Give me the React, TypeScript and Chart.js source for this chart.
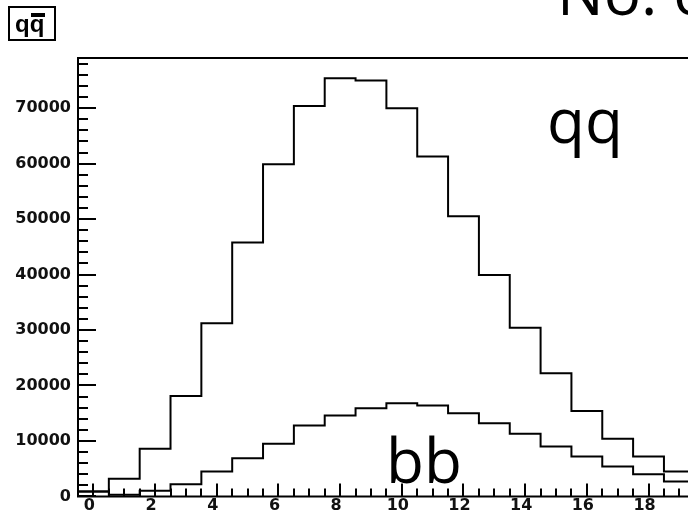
import React, { useEffect, useRef } from 'react';
import { Chart, registerables } from 'chart.js';

Chart.register(...registerables);

// ---- data ----
const binCenters = [0, 1, 2, 3, 4, 5, 6, 7, 8, 9, 10, 11, 12, 13, 14, 15, 16, 17, 18, 19];
const qqCounts = [900, 3200, 8600, 18100, 31200, 45800, 59900, 70400, 75400, 75000, 70000, 61300, 50500, 39900, 30400, 22200, 15400, 10400, 7200, 4500];
const bbCounts = [900, 300, 1000, 2200, 4500, 6900, 9500, 12800, 14600, 15900, 16800, 16400, 15000, 13200, 11300, 9000, 7200, 5400, 4000, 2700];
const xTickValues = [0, 2, 4, 6, 8, 10, 12, 14, 16, 18];
const yTickValues = [0, 10000, 20000, 30000, 40000, 50000, 60000, 70000];
const binWidth = 1;
const xMin = -0.5;
const xMax = 19.28;
const yMax = 79050;

function toSteps(counts: number[]) {
  const pts = counts.map((c, i) => ({ x: binCenters[i] - binWidth / 2, y: c }));
  const last = binCenters.length - 1;
  pts.push({ x: binCenters[last] + binWidth / 2, y: counts[last] });
  return pts;
}

const framePlugin = {
  id: 'rootFrame',
  afterDatasetsDraw(chart: any) {
    const { ctx, chartArea, scales } = chart;
    const { left, right, top, bottom } = chartArea;
    const x = scales.x;
    const y = scales.y;
    ctx.save();
    ctx.strokeStyle = '#000';
    ctx.lineWidth = 2;
    ctx.lineCap = 'butt';
    ctx.beginPath();
    ctx.moveTo(left, top);
    ctx.lineTo(right + 5, top);
    ctx.moveTo(left, top - 1);
    ctx.lineTo(left, bottom);
    ctx.lineTo(right + 5, bottom);
    ctx.stroke();
    // y ticks (inward)
    ctx.beginPath();
    for (let v = 0; v <= yMax; v += 2000) {
      const py = Math.round(y.getPixelForValue(v));
      const len = v % 10000 === 0 ? 18 : 10;
      ctx.moveTo(left, py);
      ctx.lineTo(left + len, py);
    }
    // x ticks (inward)
    for (let v = 0; v <= xMax; v += 0.5) {
      const px = Math.round(x.getPixelForValue(v));
      const len = v % 2 === 0 ? 13 : 8;
      ctx.moveTo(px, bottom);
      ctx.lineTo(px, bottom - len);
    }
    ctx.stroke();
    ctx.restore();
  },
  afterDraw(chart: any) {
    const { ctx } = chart;
    ctx.save();
    // title box
    ctx.fillStyle = '#fff';
    ctx.fillRect(9, 7, 46, 33);
    ctx.strokeStyle = '#000';
    ctx.lineWidth = 2;
    ctx.strokeRect(9, 7, 46, 33);
    ctx.fillStyle = '#000';
    ctx.font = 'bold 24px "Liberation Sans", Arial, sans-serif';
    ctx.textBaseline = 'alphabetic';
    ctx.textAlign = 'left';
    ctx.fillText('qq', 15, 32);
    ctx.fillRect(31, 13, 14, 4);
    // annotations
    ctx.font = '62px "Open Sans", "Noto Sans", sans-serif';
    ctx.fillText('qq', 547, 143);
    ctx.fillText('bb', 386, 483);
    ctx.fillText('No. of', 557, 15);
    ctx.restore();
  },
};

export default function App() {
  const canvasRef = useRef<HTMLCanvasElement | null>(null);

  useEffect(() => {
    document.body.style.margin = '0';
    const canvas = canvasRef.current;
    if (!canvas) return;
    const tickFont = { family: '"DejaVu Sans", sans-serif', weight: 'bold' as const, size: 16 };
    const chart = new Chart(canvas, {
      type: 'line',
      data: {
        datasets: [
          {
            label: 'qq',
            data: toSteps(qqCounts),
            stepped: 'before',
            borderColor: '#000',
            borderWidth: 2,
            pointRadius: 0,
            fill: false,
            borderJoinStyle: 'miter',
          },
          {
            label: 'bb',
            data: toSteps(bbCounts),
            stepped: 'before',
            borderColor: '#000',
            borderWidth: 2,
            pointRadius: 0,
            fill: false,
            borderJoinStyle: 'miter',
          },
        ],
      },
      options: {
        animation: false,
        responsive: false,
        devicePixelRatio: 1,
        layout: { padding: { top: 58, right: 0, bottom: 0, left: 0 } },
        plugins: { legend: { display: false }, tooltip: { enabled: false }, title: { display: false } },
        scales: {
          x: {
            type: 'linear',
            min: xMin,
            max: xMax,
            grid: { display: false, drawTicks: false },
            border: { display: false },
            ticks: {
              font: tickFont,
              color: '#111',
              padding: 0,
              labelOffset: -4,
              maxRotation: 0,
              autoSkip: false,
              callback: (v: any) => String(v),
            },
            afterBuildTicks: (s: any) => {
              s.ticks = xTickValues.map((v) => ({ value: v }));
            },
            afterFit: (s: any) => {
              s.height = 16;
            },
          },
          y: {
            type: 'linear',
            min: 0,
            max: yMax,
            grid: { display: false, drawTicks: false },
            border: { display: false },
            ticks: { font: tickFont, color: '#111', padding: 7, callback: (v: any) => String(v) },
            afterBuildTicks: (s: any) => {
              s.ticks = yTickValues.map((v) => ({ value: v }));
            },
            afterFit: (s: any) => {
              s.width = 78;
            },
          },
        },
      },
      plugins: [framePlugin],
    } as any);
    return () => chart.destroy();
  }, []);

  return (
    <div style={{ position: 'fixed', left: 0, top: 0, width: 688, height: 513, overflow: 'hidden', background: '#fff' }}>
      <canvas ref={canvasRef} width={688} height={513} style={{ width: 688, height: 513, display: 'block' }} />
    </div>
  );
}
